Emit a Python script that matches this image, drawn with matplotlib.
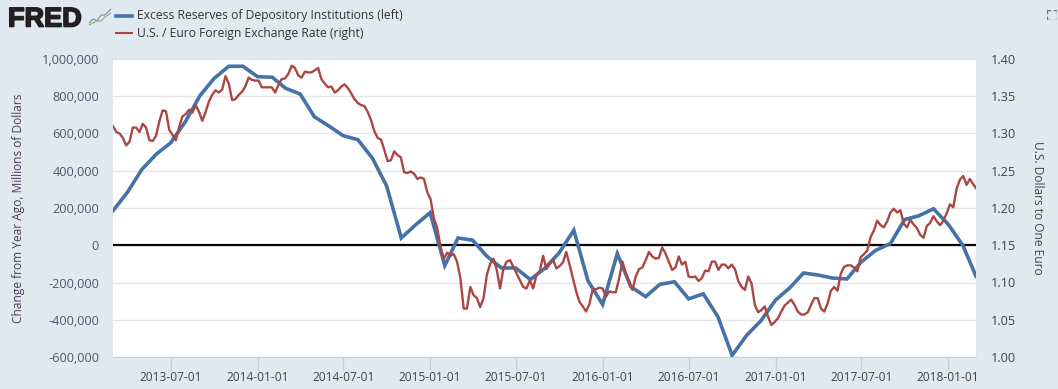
#%%
import pandas as pd
import numpy as np
import matplotlib.pyplot as plt
import matplotlib.dates as mdates
import matplotlib.patheffects as pe
from matplotlib.ticker import FuncFormatter

#%%
# monthly, 2013-03 to 2018-03
reserves = [185, 286, 407, 490, 550, 663, 803, 896, 961, 961, 905, 902, 843, 812, 690, 640,
            588, 567, 467, 318, 39, 109, 175, -109, 39, 27, -59, -122, -122, -184, -123, -41,
            81, -191, -318, -45, -223, -276, -210, -196, -288, -261, -384, -591, -483, -405,
            -294, -226, -149, -160, -176, -181, -90, -27, 9, 138, 159, 196, 113, 0, -166]
reserves = np.array(reserves) * 1000

# weekly, from 2013-03-01
euro = [1.310, 1.302, 1.300, 1.294, 1.284, 1.289, 1.308, 1.308, 1.302, 1.313, 1.308, 1.291,
        1.290, 1.297, 1.316, 1.331, 1.330, 1.305, 1.298, 1.291, 1.309, 1.323, 1.326, 1.332,
        1.328, 1.338, 1.329, 1.317, 1.329, 1.343, 1.352, 1.358, 1.355, 1.359, 1.377, 1.367,
        1.345, 1.346, 1.352, 1.356, 1.363, 1.375, 1.372, 1.371, 1.371, 1.362, 1.362, 1.362,
        1.362, 1.355, 1.365, 1.373, 1.374, 1.380, 1.391, 1.388, 1.378, 1.375, 1.383, 1.382,
        1.382, 1.385, 1.388, 1.373, 1.367, 1.362, 1.363, 1.355, 1.358, 1.363, 1.366, 1.361,
        1.354, 1.346, 1.341, 1.338, 1.337, 1.329, 1.318, 1.303, 1.294, 1.292, 1.278, 1.263,
        1.264, 1.276, 1.271, 1.268, 1.248, 1.247, 1.249, 1.246, 1.239, 1.241, 1.239, 1.221,
        1.212, 1.186, 1.173, 1.148, 1.132, 1.140, 1.136,
        1.138, 1.128, 1.106, 1.065, 1.065, 1.094, 1.083, 1.079, 1.067, 1.079, 1.110, 1.125,
        1.132, 1.117, 1.092, 1.119, 1.128, 1.130, 1.121, 1.112, 1.103, 1.094, 1.092, 1.103,
        1.092, 1.110, 1.115, 1.136, 1.118, 1.125, 1.131, 1.119, 1.122, 1.127, 1.141, 1.124,
        1.106, 1.088, 1.074, 1.068, 1.061, 1.071, 1.091, 1.091, 1.093, 1.092, 1.081, 1.088,
        1.087, 1.087, 1.106, 1.128, 1.112, 1.099, 1.090, 1.108, 1.118, 1.120, 1.130, 1.141,
        1.135, 1.132, 1.133, 1.147, 1.139, 1.128, 1.117, 1.120, 1.135, 1.124, 1.128, 1.108,
        1.107, 1.108, 1.102, 1.106, 1.116, 1.115, 1.128, 1.128, 1.117, 1.124, 1.124, 1.119,
        1.124, 1.118, 1.102, 1.094, 1.090, 1.108, 1.099, 1.070, 1.060,
        1.063, 1.068, 1.054, 1.043, 1.047, 1.052, 1.061, 1.069, 1.073, 1.077, 1.070, 1.061,
        1.057, 1.057, 1.060, 1.070, 1.079, 1.079, 1.065, 1.061, 1.072, 1.089, 1.094, 1.089,
        1.112, 1.121, 1.123, 1.123, 1.120, 1.115, 1.134, 1.138, 1.143, 1.161, 1.170, 1.183,
        1.177, 1.174, 1.182, 1.194, 1.199, 1.194, 1.197, 1.179, 1.174, 1.184, 1.178, 1.173,
        1.164, 1.160, 1.176, 1.180, 1.189, 1.182, 1.177, 1.183, 1.193, 1.205, 1.201, 1.226,
        1.238, 1.243, 1.231, 1.239, 1.232, 1.226]

left_ticks = [-600000, -400000, -200000, 0, 200000, 400000, 600000, 800000, 1000000]
right_ticks = [1.00, 1.05, 1.10, 1.15, 1.20, 1.25, 1.30, 1.35, 1.40]
date_ticks = ['2013-07-01', '2014-01-01', '2014-07-01', '2015-01-01', '2015-07-01',
              '2016-01-01', '2016-07-01', '2017-01-01', '2017-07-01', '2018-01-01']

res_dates = pd.date_range('2013-03-01', periods=len(reserves), freq='MS')
euro_dates = pd.date_range('2013-03-01', periods=len(euro), freq='7D')

#%%
plt.rcParams['font.family'] = ['Open Sans', 'DejaVu Sans']
bg = '#e1e9f0'
W, H = 1058, 389

fig = plt.figure(figsize=(W / 100, H / 100), dpi=100, facecolor=bg)
ax = fig.add_axes([113 / W, 1 - 357 / H, (976 - 113) / W, (357 - 59) / H])
ax2 = ax.twinx()

ax.axhline(0, color='black', lw=1.6, zorder=1)
ax.plot(res_dates, reserves, color='#4572a7', lw=2.6, solid_joinstyle='miter', zorder=3)
ax2.plot(euro_dates, euro, color='#aa4643', lw=1.7, zorder=4)

ax.set_xlim(pd.Timestamp('2013-03-01'), pd.Timestamp('2018-03-01'))
ax.set_ylim(-600000, 1000000)
ax2.set_ylim(1.0, 1.4)

ax.set_yticks(left_ticks)
ax.yaxis.set_major_formatter(FuncFormatter(lambda v, p: f'{int(v):,}'))
ax2.set_yticks(right_ticks)
ax2.set_yticklabels([f'{v:.2f}' for v in right_ticks])
ax.set_xticks(pd.to_datetime(date_ticks))
ax.xaxis.set_major_formatter(mdates.DateFormatter('%Y-%m-%d'))

ax.grid(axis='y', color='#e6e6e6', lw=1)
ax.set_axisbelow(True)
for a in (ax, ax2):
    for s in a.spines.values():
        s.set_visible(False)
ax.spines['bottom'].set_visible(True)
ax.spines['bottom'].set_color('#c0d0e0')

ax.tick_params(axis='x', length=9, width=1, color='#c0d0e0', direction='out',
               labelsize=8.6, labelcolor='#444444', pad=1)
ax.tick_params(axis='y', length=0, labelsize=9.2, labelcolor='#4a5a70', pad=10)
ax2.tick_params(axis='y', length=0, labelsize=9.2, labelcolor='#444444', pad=11)

fig.text(19 / W, 1 - 208 / H, 'Change from Year Ago, Millions of Dollars', rotation=90,
         ha='center', va='center', fontsize=8.6, color='#4d3d5c')
fig.text(1038 / W, 1 - 208 / H, 'U.S. Dollars to One Euro', rotation=270,
         ha='center', va='center', fontsize=8.6, color='#444444')

# legend
fig.add_artist(plt.Line2D([116 / W, 132 / W], [1 - 16 / H] * 2, color='#4572a7', lw=2.6))
fig.add_artist(plt.Line2D([116 / W, 132 / W], [1 - 33 / H] * 2, color='#aa4643', lw=1.5))
fig.text(137 / W, 1 - 16 / H, 'Excess Reserves of Depository Institutions (left)',
         va='center', fontsize=8.7, color='#333333')
fig.text(137 / W, 1 - 33 / H, 'U.S. / Euro Foreign Exchange Rate (right)',
         va='center', fontsize=8.7, color='#333333')

# logo
fig.text(8 / W, 1 - 26.5 / H, 'FRED', va='baseline', fontsize=19.5, fontweight='bold',
         family=['Liberation Sans'], color='#231f20',
         path_effects=[pe.withStroke(linewidth=1.2, foreground='#231f20')])
logo = fig.add_axes([89 / W, 1 - 27 / H, 22 / W, 20 / H])
logo.plot([0, 2, 4, 6, 8, 11], [2, 4, 3, 6, 6, 9], color='#6f8fb0', lw=0.8)
logo.plot([0, 2, 4, 6, 8, 11], [1, 2, 3, 3, 5, 7], color='#8db060', lw=0.8)
logo.set_xlim(0, 11)
logo.set_ylim(0, 10)
logo.axis('off')

# fullscreen corners, top right
corner = fig.add_axes([1047 / W, 1 - 20 / H, 10 / W, 10 / H])
for xs, ys in [([0, 0, 3], [3, 0, 0]), ([7, 10, 10], [0, 0, 3]),
               ([0, 0, 3], [7, 10, 10]), ([7, 10, 10], [10, 10, 7])]:
    corner.plot(xs, ys, color='#5f6f80', lw=1)
corner.set_xlim(-0.5, 10.5)
corner.set_ylim(-0.5, 10.5)
corner.axis('off')

fig.savefig('out.png', dpi=100, facecolor=bg)
